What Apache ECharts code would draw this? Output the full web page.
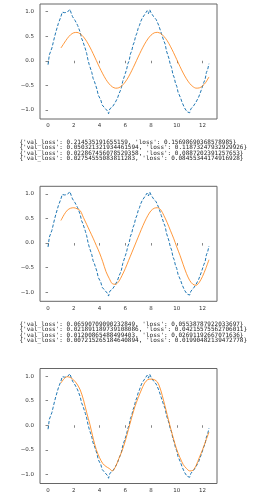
<!DOCTYPE html>
<html><head><meta charset="utf-8">
<script src="https://cdn.jsdelivr.net/npm/echarts@6/dist/echarts.min.js"></script>
<style>html,body{margin:0;padding:0;background:#fff}#c{width:274px;height:500px}</style>
</head><body><div id="c"></div>
<script>
// true signal (blue dashed), x = 0.0 .. 12.5 step 0.1
const trueY = [-0.08,0.12,0.14,0.26,0.37,0.48,0.58,0.62,0.76,0.80,
0.90,0.99,0.96,0.98,0.95,0.99,0.96,1.05,0.97,0.90,
0.88,0.82,0.78,0.72,0.70,0.58,0.46,0.40,0.38,0.24,
0.15,0.02,-0.08,-0.12,-0.24,-0.36,-0.42,-0.50,-0.58,-0.70,
-0.74,-0.80,-0.90,-0.88,-0.96,-0.94,-1.02,-1.08,-0.98,-1.00,
-0.94,-0.98,-0.86,-0.84,-0.76,-0.68,-0.62,-0.55,-0.42,-0.40,
-0.26,-0.18,-0.06,0.00,0.14,0.20,0.32,0.38,0.50,0.56,
0.66,0.72,0.80,0.86,0.88,0.94,0.98,1.02,0.96,1.04,
0.98,0.96,0.90,0.92,0.84,0.80,0.72,0.68,0.56,0.52,
0.40,0.34,0.20,0.12,0.04,-0.08,-0.14,-0.28,-0.34,-0.46,
-0.52,-0.64,-0.68,-0.76,-0.84,-0.86,-0.96,-0.94,-1.04,-1.00,
-1.06,-0.98,-1.00,-0.92,-0.94,-0.84,-0.84,-0.74,-0.70,-0.60,
-0.56,-0.44,-0.38,-0.24,-0.18,-0.06];
const trueStep = 0.1;
// predictions (orange), x = 1.0 .. 12.5 step 0.25
const predStart = 1.0, predStep = 0.25;
const pred1 = [0.26,0.36,0.456,0.53,0.571,0.578,0.549,0.487,0.395,0.279,0.146,0.005,-0.136,-0.266,-0.382,-0.472,-0.533,-0.559,-0.55,-0.506,-0.431,-0.329,-0.203,-0.066,0.077,0.214,0.339,0.444,0.522,0.569,0.579,0.555,0.497,0.411,0.296,0.165,0.024,-0.118,-0.251,-0.367,-0.462,-0.526,-0.558,-0.553,-0.514,-0.441,-0.33];
const pred2 = [0.46,0.58,0.67,0.71,0.72,0.70,0.66,0.52,0.38,0.24,0.10,-0.05,-0.20,-0.38,-0.58,-0.72,-0.83,-0.84,-0.78,-0.66,-0.52,-0.36,-0.20,-0.04,0.12,0.28,0.43,0.56,0.66,0.71,0.72,0.68,0.56,0.42,0.26,0.10,-0.08,-0.25,-0.44,-0.62,-0.76,-0.84,-0.86,-0.80,-0.68,-0.52,-0.34];
const pred3 = [0.86,0.95,0.99,0.97,0.92,0.84,0.72,0.52,0.26,0.02,-0.26,-0.50,-0.66,-0.78,-0.84,-0.88,-0.93,-0.84,-0.68,-0.52,-0.32,-0.08,0.16,0.38,0.56,0.72,0.86,0.93,0.94,0.93,0.88,0.72,0.48,0.22,-0.04,-0.28,-0.50,-0.66,-0.80,-0.88,-0.93,-0.92,-0.82,-0.66,-0.50,-0.32,-0.14];
const xTicks = [0,2,4,6,8,10,12];
const yTicks = [-1.0,-0.5,0.0,0.5,1.0];
const logs1 = [
"{'val_loss': 0.214535191655159, 'loss': 0.15698690368578985}",
"{'val_loss': 0.050321321934461594, 'loss': 0.11873247932929926}",
"{'val_loss': 0.022867456078529358, 'loss': 0.0887202391257653}",
"{'val_loss': 0.02754555083811283, 'loss': 0.08455344174916928}"];
const logs2 = [
"{'val_loss': 0.06590709090232849, 'loss': 0.05538787922033697}",
"{'val_loss': 0.021891189739108086, 'loss': 0.04215575562706011}",
"{'val_loss': 0.01200865488499403, 'loss': 0.02691192667071636}",
"{'val_loss': 0.007215265184640894, 'loss': 0.01990482139472778}"];

const trueData = trueY.map((v,i)=>[+(i*trueStep).toFixed(2), v]);
const mk = arr => arr.map((v,i)=>[predStart + i*predStep, v]);
const preds = [pred1, pred2, pred3];
const tops = [4, 186.3, 368.5];
const grids = [], xAxes = [], yAxes = [], series = [];
const fmtY = v => (v < 0 ? '\u2212' : '') + Math.abs(v).toFixed(1);
tops.forEach((t,k)=>{
  grids.push({left:40, top:t, width:177, height:115, show:true, borderColor:'#666', borderWidth:1, backgroundColor:'#fff'});
  xAxes.push({type:'value', gridIndex:k, min:-0.625, max:13.125,
    axisLine:{show:false}, splitLine:{show:false},
    axisTick:{show:true, length:2.5, lineStyle:{color:'#666', width:0.8}, customValues:xTicks},
    axisLabel:{customValues:xTicks, fontSize:5.5, color:'#333', margin:4, fontFamily:'DejaVu Sans'}});
  yAxes.push({type:'value', gridIndex:k, min:-1.187, max:1.157,
    axisLine:{show:false}, splitLine:{show:false},
    axisTick:{show:true, length:2.5, lineStyle:{color:'#666', width:0.8}, customValues:yTicks},
    axisLabel:{customValues:yTicks, fontSize:5.5, color:'#333', margin:6, fontFamily:'DejaVu Sans', formatter:fmtY}});
  series.push({type:'line', xAxisIndex:k, yAxisIndex:k, data:trueData, showSymbol:false, silent:true,
    lineStyle:{color:'#1f77b4', width:1.0, type:[3.2,1.8]}, animation:false});
  series.push({type:'line', xAxisIndex:k, yAxisIndex:k, data:mk(preds[k]), showSymbol:false, silent:true, smooth:0.3,
    lineStyle:{color:'#ff7f0e', width:0.9, opacity:0.9}, animation:false});
});
const textBlock = (lines, y) => ({type:'text', x:19.5, y:y, silent:true,
  style:{text:lines.join('\n'), fontSize:6, fontFamily:'"DejaVu Sans Mono", monospace', fill:'#222', lineHeight:5.4, verticalAlign:'top', textVerticalAlign:'top'}});
const chart = echarts.init(document.getElementById('c'), null, {renderer:'canvas'});
chart.setOption({
  animation:false, backgroundColor:'#fff',
  grid:grids, xAxis:xAxes, yAxis:yAxes, series:series,
  graphic:[textBlock(logs1, 139.5), textBlock(logs2, 321.5)]
});
</script></body></html>
